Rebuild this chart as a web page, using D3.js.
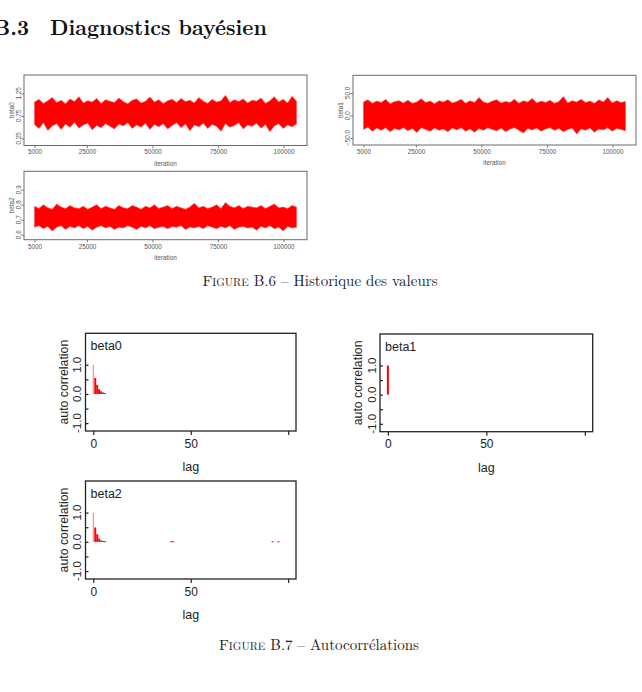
<!DOCTYPE html>
<html><head><meta charset="utf-8">
<script src="https://cdn.jsdelivr.net/npm/d3@7"></script>
<style>
html,body{margin:0;padding:0;background:#fff;}
svg{display:block;}
</style></head>
<body>
<svg id="chart" width="642" height="692"></svg>
<script>
// ---------------- DATA ----------------
const sectionNumber = "B.3";
const sectionTitle = "Diagnostics bayésien";
const caption1 = ["Figure", " B.6 – Historique des valeurs"];
const caption2 = ["Figure", " B.7 – Autocorrélations"];

const parameters = ["beta0", "beta1", "beta2"];
const iterationRange = [5000, 105000];
const iterationTicks = [5000, 25000, 50000, 75000, 100000];

// trace envelopes (upper / lower) read along the chain, 60 slices each
const beta0Upper = [1.06,1.12,1.03,1.09,1.16,1.05,1.10,1.02,1.13,1.07,
  1.18,1.04,1.09,1.06,1.14,1.03,1.11,1.08,1.05,1.15,
  1.07,1.02,1.10,1.13,1.04,1.08,1.17,1.06,1.11,1.03,
  1.09,1.12,1.05,1.14,1.07,1.10,1.04,1.16,1.08,1.03,
  1.12,1.06,1.09,1.21,1.05,1.11,1.07,1.13,1.04,1.10,
  1.08,1.15,1.03,1.09,1.18,1.06,1.12,1.04,1.19,1.08];
const beta0Lower = [0.56,0.47,0.60,0.43,0.53,0.58,0.45,0.57,0.50,0.61,
  0.48,0.55,0.59,0.44,0.54,0.49,0.58,0.52,0.46,0.57,
  0.53,0.60,0.47,0.55,0.50,0.59,0.45,0.56,0.51,0.58,
  0.46,0.54,0.60,0.49,0.57,0.42,0.55,0.51,0.59,0.47,
  0.56,0.52,0.41,0.58,0.50,0.54,0.60,0.46,0.55,0.52,
  0.59,0.48,0.56,0.40,0.53,0.58,0.47,0.55,0.51,0.57];
const beta1Upper = [30,35,27,32,29,36,26,31,33,28,
  34,27,30,37,29,32,26,33,30,35,
  28,31,36,27,33,29,40,30,27,32,
  35,28,31,29,36,27,33,30,38,28,
  32,29,34,27,31,42,28,33,30,36,
  29,32,27,35,30,40,28,33,29,31];
const beta1Lower = [-31,-26,-35,-28,-33,-27,-36,-29,-32,-27,
  -34,-29,-38,-27,-31,-35,-28,-33,-30,-36,
  -28,-32,-27,-35,-30,-37,-29,-33,-27,-31,
  -34,-28,-36,-30,-27,-33,-39,-29,-32,-28,
  -35,-30,-27,-33,-29,-36,-31,-28,-41,-30,
  -33,-28,-37,-30,-32,-27,-35,-29,-31,-34];
const beta2Upper = [0.790,0.775,0.800,0.780,0.770,0.805,0.785,0.775,0.795,0.780,
  0.775,0.790,0.770,0.785,0.800,0.775,0.790,0.780,0.770,0.795,
  0.780,0.775,0.795,0.785,0.770,0.790,0.780,0.800,0.775,0.785,
  0.795,0.775,0.790,0.780,0.770,0.785,0.810,0.780,0.790,0.775,
  0.785,0.800,0.775,0.815,0.790,0.780,0.795,0.775,0.790,0.785,
  0.780,0.795,0.775,0.790,0.805,0.780,0.785,0.775,0.795,0.785];
const beta2Lower = [0.650,0.660,0.640,0.655,0.625,0.650,0.660,0.635,0.655,0.645,
  0.660,0.640,0.655,0.630,0.650,0.660,0.645,0.655,0.635,0.650,
  0.645,0.660,0.650,0.635,0.655,0.645,0.660,0.640,0.650,0.655,
  0.640,0.655,0.650,0.660,0.635,0.650,0.645,0.655,0.640,0.660,
  0.650,0.640,0.655,0.645,0.660,0.635,0.650,0.655,0.645,0.650,
  0.630,0.655,0.645,0.660,0.640,0.650,0.625,0.655,0.645,0.650];

const traceYTicks = [[0.25, 0.75, 1.25], [-50, 0, 50], [0.6, 0.7, 0.8, 0.9]];
const traceYFormat = [".2f", ".1f", ".1f"];
const traceYDomain = [[0.094, 1.661], [-65.5, 89.3], [0.567, 1.023]];

// autocorrelations
const acfLagTicks = [0, 50, 100];
const acfLagLabels = ["0", "50", ""];
const acfYTicks = [-1, -0.5, 0, 0.5, 1];
const acfYLabels = ["-1.0", "", "0.0", "", "1.0"];
const beta0Lags = [0, 1, 2, 3, 4, 5, 6];
const beta0Acf  = [1.0, 0.55, 0.31, 0.16, 0.09, 0.05, 0.03];
const beta1Lags = [0];
const beta1Acf  = [1.0];
const beta2Lags = [0, 1, 2, 3, 4, 5, 6, 40, 41, 92, 95];
const beta2Acf  = [1.0, 0.49, 0.26, 0.11, 0.05, 0.03, 0.02, 0.02, 0.02, 0.02, 0.02];

// ---------------- DRAW ----------------
const svg = d3.select("#chart");
const RED = "#ff0000";
const SANS = "'Liberation Sans', Arial, sans-serif";
const SERIF = "'Latin Modern Roman','Liberation Serif','DejaVu Serif', serif";

// Title
svg.append("text").attr("x", 29).attr("y", 35).attr("text-anchor", "end").attr("font-family", SERIF)
  .attr("font-weight", "bold").attr("font-size", 21).attr("fill", "#111").text(sectionNumber);
svg.append("text").attr("x", 50).attr("y", 35).attr("font-family", SERIF)
  .attr("font-weight", "bold").attr("font-size", 21).attr("fill", "#111").text(sectionTitle);

function caption(parts, cx, cy) {
  const t = svg.append("text").attr("x", cx).attr("y", cy).attr("text-anchor", "middle")
    .attr("font-family", SERIF).attr("font-size", 15).attr("fill", "#222");
  t.append("tspan").attr("font-variant", "small-caps").text(parts[0]);
  t.append("tspan").text(parts[1]);
}
caption(caption1, 320, 286);
caption(caption2, 319, 650);

// Trace panels
const tracePanels = [
  {box: [24, 75, 307, 145.5], up: beta0Upper, lo: beta0Lower},
  {box: [353, 75.3, 636, 145], up: beta1Upper, lo: beta1Lower},
  {box: [24, 171.3, 307, 239.7], up: beta2Upper, lo: beta2Lower}
];

tracePanels.forEach((p, k) => {
  const [x0, y0, x1, y1] = p.box;
  const g = svg.append("g");
  const x = d3.scaleLinear().domain([1000, 109000]).range([x0, x1]);
  const y = d3.scaleLinear().domain(traceYDomain[k]).range([y1, y0]);
  const n = p.up.length;
  const iters = p.up.map((_, i) => iterationRange[0] + i * (iterationRange[1] - iterationRange[0]) / (n - 1));
  const area = d3.area()
    .x((d, i) => x(iters[i])).y0((d, i) => y(p.lo[i])).y1((d, i) => y(p.up[i]));
  g.append("path").datum(p.up).attr("d", area).attr("fill", RED)
    .attr("stroke", "#ff5050").attr("stroke-width", 0.6);
  // box
  g.append("rect").attr("x", x0).attr("y", y0).attr("width", x1 - x0).attr("height", y1 - y0)
    .attr("fill", "none").attr("stroke", "#6a6a6a").attr("stroke-width", 1);
  // x axis
  const xa = g.append("g").attr("transform", `translate(0,${y1})`)
    .call(d3.axisBottom(x).tickValues(iterationTicks).tickFormat(d3.format("d")).tickSize(2.5).tickPadding(2));
  xa.select(".domain").remove();
  xa.selectAll("line").attr("stroke", "#777");
  xa.selectAll("text").attr("font-family", SANS).attr("font-size", 6.3).attr("fill", "#555");
  // y axis
  const ya = g.append("g").attr("transform", `translate(${x0},0)`)
    .call(d3.axisLeft(y).tickValues(traceYTicks[k]).tickFormat(d3.format(traceYFormat[k])).tickSize(2.5).tickPadding(0));
  ya.select(".domain").remove();
  ya.selectAll("line").attr("stroke", "#777");
  ya.selectAll("text").remove();
  traceYTicks[k].forEach(v => {
    g.append("text").attr("transform", `translate(${x0 - 5.5},${y(v)}) rotate(-90)`)
      .attr("text-anchor", "middle").attr("dy", "0.35em").attr("font-family", SANS)
      .attr("font-size", 6.3).attr("fill", "#555").text(d3.format(traceYFormat[k])(v));
  });
  g.append("text").attr("transform", `translate(${x0 - 12},${(y0 + y1) / 2}) rotate(-90)`)
    .attr("text-anchor", "middle").attr("dy", "0.35em").attr("font-family", SANS)
    .attr("font-size", 6.3).attr("fill", "#555").text(parameters[k]);
  g.append("text").attr("x", (x0 + x1) / 2).attr("y", y1 + 18).attr("dy", "0.35em")
    .attr("text-anchor", "middle").attr("font-family", SANS).attr("font-size", 6.3)
    .attr("fill", "#555").text("iteration");
});

// ACF panels
const acfPanels = [
  {box: [85.5, 333.3, 296, 431], lags: beta0Lags, vals: beta0Acf, zero: 1, op: 0.55},
  {box: [380, 334, 592.7, 431.7], lags: beta1Lags, vals: beta1Acf, zero: 2, op: 1},
  {box: [85.5, 481, 296, 579], lags: beta2Lags, vals: beta2Acf, zero: 1, op: 0.55}
];

acfPanels.forEach((p, k) => {
  const [x0, y0, x1, y1] = p.box;
  const g = svg.append("g");
  const x = d3.scaleLinear().domain([-4, 104]).range([x0, x1]);
  const y = d3.scaleLinear().domain([-1.27, 2.08]).range([y1, y0]);
  const bw = x(1) - x(0);
  p.lags.forEach((lag, i) => {
    if (lag === 0) {
      g.append("line").attr("x1", x(lag)).attr("x2", x(lag)).attr("y1", y(0)).attr("y2", y(p.vals[i]))
        .attr("stroke", RED).attr("stroke-width", p.zero).attr("stroke-opacity", p.op);
    } else {
      g.append("rect").attr("x", x(lag) - bw / 2).attr("width", bw)
        .attr("y", y(p.vals[i])).attr("height", Math.max(1, y(0) - y(p.vals[i])))
        .attr("fill", RED);
    }
  });
  g.append("rect").attr("x", x0).attr("y", y0).attr("width", x1 - x0).attr("height", y1 - y0)
    .attr("fill", "none").attr("stroke", "#222").attr("stroke-width", 1.3);
  const xa = g.append("g").attr("transform", `translate(0,${y1})`)
    .call(d3.axisBottom(x).tickValues(acfLagTicks).tickFormat((d, i) => acfLagLabels[i]).tickSize(4).tickPadding(4));
  xa.select(".domain").remove();
  xa.selectAll("line").attr("stroke", "#222").attr("stroke-width", 1.2);
  xa.selectAll("text").attr("font-family", SANS).attr("font-size", 12).attr("fill", "#222");
  const ya = g.append("g").attr("transform", `translate(${x0},0)`)
    .call(d3.axisRight(y).tickValues(acfYTicks).tickFormat("").tickSize(3));
  ya.select(".domain").remove();
  ya.selectAll("line").attr("stroke", "#222").attr("stroke-width", 1.2);
  acfYTicks.forEach((v, i) => {
    if (!acfYLabels[i]) return;
    g.append("text").attr("transform", `translate(${x0 - 8.5},${y(v)}) rotate(-90)`)
      .attr("text-anchor", "middle").attr("dy", "0.35em").attr("font-family", SANS)
      .attr("font-size", 11.5).attr("fill", "#222").text(acfYLabels[i]);
  });
  g.append("text").attr("transform", `translate(${x0 - 22},${(y0 + y1) / 2}) rotate(-90)`)
    .attr("text-anchor", "middle").attr("dy", "0.35em").attr("font-family", SANS)
    .attr("font-size", 12.3).attr("fill", "#222").text("auto correlation");
  g.append("text").attr("x", (x0 + x1) / 2).attr("y", y1 + 36).attr("dy", "0.35em")
    .attr("text-anchor", "middle").attr("font-family", SANS).attr("font-size", 12.5)
    .attr("fill", "#222").text("lag");
  g.append("text").attr("x", x0 + 5).attr("y", y0 + 12.5).attr("dy", "0.35em")
    .attr("font-family", SANS).attr("font-size", 12.5).attr("fill", "#222").text(parameters[k]);
});
</script>
</body></html>
